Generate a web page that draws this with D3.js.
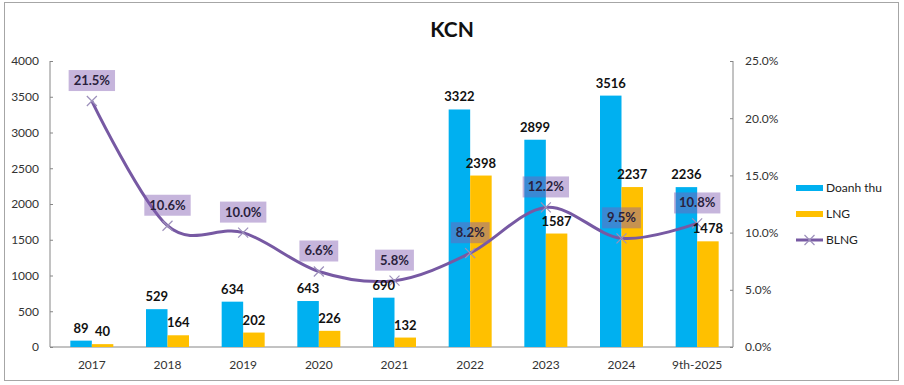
<!DOCTYPE html>
<html>
<head>
<meta charset="utf-8">
<script src="https://cdn.jsdelivr.net/npm/d3@7"></script>
<style>
  body { margin: 0; background: #fff; }
  text { font-family: Lato, "Open Sans", sans-serif; }
</style>
</head>
<body>
<div id="chart"></div>
<script>
const categories = ["2017", "2018", "2019", "2020", "2021", "2022", "2023", "2024", "9th-2025"];
const doanhThu = [89, 529, 634, 643, 690, 3322, 2899, 3516, 2236];
const lng = [40, 164, 202, 226, 132, 2398, 1587, 2237, 1478];
const blng = [0.215, 0.106, 0.100, 0.066, 0.058, 0.082, 0.122, 0.095, 0.108];
const leftTicks = [0, 500, 1000, 1500, 2000, 2500, 3000, 3500, 4000];
const rightTicks = [0, 0.05, 0.10, 0.15, 0.20, 0.25];

const width = 904, height = 385;
const blue = "#00B0F0", orange = "#FFC000", purple = "#7759A3";

const svg = d3.select("#chart").append("svg")
    .attr("width", width)
    .attr("height", height);

// outer frame
svg.append("rect")
    .attr("x", 4.5).attr("y", 2.5)
    .attr("width", 894).attr("height", 378)
    .attr("fill", "#fff")
    .attr("stroke", "#a6a6a6");

svg.append("text")
    .attr("x", 452).attr("y", 37)
    .attr("text-anchor", "middle")
    .attr("font-size", 21)
    .attr("font-weight", "bold")
    .attr("fill", "#111")
    .text("KCN");

const x = d3.scaleBand()
    .domain(categories)
    .range([54, 735]);

const y = d3.scaleLinear().domain([0, 4000]).range([347, 61]);
const y2 = d3.scaleLinear().domain([0, 0.25]).range([347, 61]);

const barW = 21.5;

// left axis
const gl = svg.append("g")
    .attr("transform", "translate(50,0)")
    .call(d3.axisLeft(y).tickValues(leftTicks).tickSize(3).tickPadding(8).tickFormat(d3.format("d")));
gl.select(".domain").attr("stroke", "#868686").attr("d", "M0,61V347");
gl.selectAll(".tick line").attr("stroke", "#868686").attr("x2", 3).attr("x1", 0);
gl.selectAll(".tick text").attr("font-size", 12).attr("fill", "#333").attr("font-family", "Lato");

// right axis
const gr = svg.append("g")
    .attr("transform", "translate(733,0)")
    .call(d3.axisRight(y2).tickValues(rightTicks).tickSize(3).tickPadding(9).tickFormat(d3.format(".1%")));
gr.select(".domain").attr("stroke", "#868686").attr("d", "M0,61V347");
gr.selectAll(".tick line").attr("stroke", "#868686").attr("x1", -3).attr("x2", 0);
gr.selectAll(".tick text").attr("font-size", 12).attr("fill", "#333").attr("font-family", "Lato");

// x axis
const gx = svg.append("g")
    .attr("transform", "translate(0,347)")
    .call(d3.axisBottom(x).tickSize(0).tickPadding(13));
gx.select(".domain").attr("stroke", "#868686").attr("d", "M50,0H733");
gx.selectAll(".tick text").attr("font-size", 12).attr("fill", "#333").attr("font-family", "Lato");

const cx = d => x(d) + x.bandwidth() / 2;

// bars
svg.append("g").selectAll("rect")
    .data(categories)
    .join("rect")
    .attr("x", (d) => cx(d) - barW)
    .attr("y", (d, i) => y(doanhThu[i]))
    .attr("width", barW)
    .attr("height", (d, i) => y(0) - y(doanhThu[i]))
    .attr("fill", blue);

svg.append("g").selectAll("rect")
    .data(categories)
    .join("rect")
    .attr("x", (d) => cx(d))
    .attr("y", (d, i) => y(lng[i]))
    .attr("width", barW)
    .attr("height", (d, i) => y(0) - y(lng[i]))
    .attr("fill", orange);

// line
const pts = categories.map((d, i) => [cx(d), y2(blng[i])]);
svg.append("path")
    .attr("d", d3.line().curve(d3.curveCatmullRom.alpha(0))(pts))
    .attr("fill", "none")
    .attr("stroke", purple)
    .attr("stroke-width", 3);

function xMark(g, px, py) {
    g.append("path")
        .attr("d", `M${px - 5},${py - 5}L${px + 5},${py + 5}M${px - 5},${py + 5}L${px + 5},${py - 5}`)
        .attr("stroke", "#9d90bb")
        .attr("stroke-width", 1.2);
}
const gm = svg.append("g");
pts.forEach(p => xMark(gm, p[0], p[1]));

// bar value labels
const gv = svg.append("g").attr("font-size", 13).attr("font-weight", "bold").attr("fill", "#111");
categories.forEach((d, i) => {
    gv.append("text")
        .attr("x", cx(d) - barW / 2)
        .attr("y", y(doanhThu[i]) - 8)
        .attr("text-anchor", "middle")
        .text(doanhThu[i]);
    gv.append("text")
        .attr("x", cx(d) + barW / 2)
        .attr("y", y(lng[i]) - 8)
        .attr("text-anchor", "middle")
        .text(lng[i]);
});

// BLNG labels with translucent boxes
const gb = svg.append("g");
pts.forEach((p, i) => {
    const g = gb.append("g");
    const t = g.append("text")
        .attr("x", p[0])
        .attr("y", p[1] - 16)
        .attr("text-anchor", "middle")
        .attr("font-size", 13)
        .attr("font-weight", "bold")
        .attr("fill", "#2a1f3d")
        .text(d3.format(".1%")(blng[i]));
    const w = t.node().getComputedTextLength() + 10;
    g.insert("rect", "text")
        .attr("x", p[0] - w / 2)
        .attr("y", p[1] - 31)
        .attr("width", w)
        .attr("height", 21)
        .attr("fill", "rgba(128,92,178,0.45)");
});

// legend
const lg = svg.append("g").attr("font-size", 12).attr("fill", "#222");
lg.append("rect").attr("x", 796).attr("y", 185).attr("width", 27).attr("height", 6).attr("fill", blue);
lg.append("text").attr("x", 826).attr("y", 192).text("Doanh thu");
lg.append("rect").attr("x", 796).attr("y", 211).attr("width", 27).attr("height", 6).attr("fill", orange);
lg.append("text").attr("x", 826).attr("y", 218).text("LNG");
lg.append("line").attr("x1", 796).attr("x2", 823).attr("y1", 240).attr("y2", 240)
    .attr("stroke", purple).attr("stroke-width", 3);
xMark(lg, 809.5, 240);
lg.append("text").attr("x", 826).attr("y", 244).text("BLNG");
</script>
</body>
</html>
